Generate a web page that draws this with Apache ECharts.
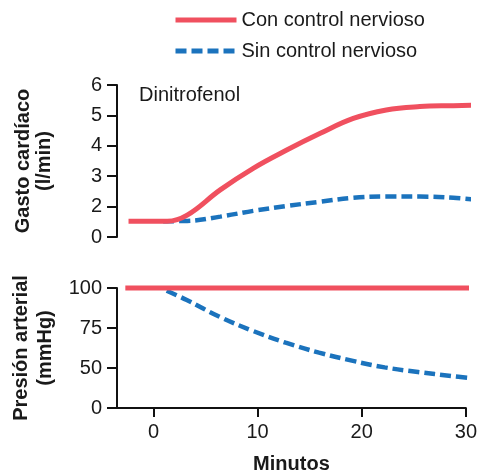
<!DOCTYPE html>
<html>
<head>
<meta charset="utf-8">
<script src="https://cdn.jsdelivr.net/npm/echarts@6/dist/echarts.min.js"></script>
<style>
  html, body { margin: 0; padding: 0; background: #fff; }
  #chart { width: 480px; height: 476px; }
</style>
</head>
<body>
<div id="chart"></div>
<script>
// minutes / values
const gastoConX = [-2.4, 1.3, 3.2, 6.35, 9.5, 12.7, 15.9, 19.05, 22.2, 25.4, 28.6, 31.2];
const gastoConY = [1.52, 1.52, 1.72, 2.55, 3.26, 3.86, 4.41, 4.9, 5.18, 5.29, 5.32, 5.34];
const gastoSinX = [0.9, 3.2, 6.35, 9.5, 12.7, 15.9, 19.05, 22.2, 25.4, 28.6, 30.8];
const gastoSinY = [1.52, 1.53, 1.67, 1.86, 2.02, 2.16, 2.29, 2.33, 2.33, 2.29, 2.22];
const presionConX = [-2.7, 30.8];
const presionConY = [100, 100];
const presionSinX = [1.27, 3.2, 6.35, 9.5, 12.7, 15.9, 19.05, 22.2, 25.4, 28.6, 30.7];
const presionSinY = [98.3, 92.5, 82, 73.3, 65.8, 59.6, 54.6, 50.4, 47.5, 45, 43.6];
const minuteTicks = [0, 10, 20, 30];

const RED = '#f0505f';
const BLUE = '#1b73bd';
const FONT = '"Liberation Sans", Arial, sans-serif';

const pairs = (xs, ys) => xs.map((x, i) => [x, ys[i]]);

const axisLine = { onZero: false, lineStyle: { color: '#111', width: 2 } };
const axisTick = { inside: false, length: 10, lineStyle: { color: '#111', width: 2 } };

const chart = echarts.init(document.getElementById('chart'));

chart.setOption({
  animation: false,
  textStyle: { fontFamily: FONT },
  legend: {
    orient: 'vertical',
    left: 168,
    top: 5,
    itemWidth: 61,
    itemHeight: 6,
    itemGap: 11,
    itemStyle: { opacity: 0 },
    lineStyle: { width: 5 },
    textStyle: { fontSize: 20, color: '#1a1a1a', fontFamily: FONT },
    data: ['Con control nervioso', 'Sin control nervioso'],
  },
  grid: [
    { left: 117, right: 12, top: 85, height: 152 },
    { left: 117, right: 12, top: 288, height: 120 },
  ],
  graphic: [
    {
      type: 'text',
      left: 139,
      top: 85,
      style: { text: 'Dinitrofenol', fontSize: 20, fill: '#1a1a1a', fontFamily: FONT },
    },
  ],
  xAxis: [
    { gridIndex: 0, type: 'value', min: -3.5, max: 30, show: false },
    {
      gridIndex: 1,
      type: 'value',
      min: -3.5,
      max: 30,
      axisLine,
      axisTick: { ...axisTick, length: 9, customValues: minuteTicks },
      axisLabel: {
        customValues: minuteTicks,
        fontSize: 20,
        color: '#1a1a1a',
        margin: 14,
      },
      splitLine: { show: false },
      name: 'Minutos',
      nameLocation: 'middle',
      nameGap: 46,
      nameTextStyle: { fontSize: 20, fontWeight: 'bold', color: '#1a1a1a' },
    },
  ],
  yAxis: [
    {
      gridIndex: 0,
      type: 'value',
      min: 1,
      max: 6,
      interval: 1,
      axisLine: { show: true, ...axisLine },
      axisTick: { show: true, ...axisTick },
      axisLabel: {
        fontSize: 20,
        color: '#1a1a1a',
        margin: 15,
        formatter: (v) => (v === 1 ? '0' : String(v)),
      },
      splitLine: { show: false },
      name: 'Gasto cardíaco\n(l/min)',
      nameLocation: 'middle',
      nameRotate: 90,
      nameGap: 62,
      nameTextStyle: { fontSize: 20, fontWeight: 'bold', color: '#1a1a1a', lineHeight: 21 },
    },
    {
      gridIndex: 1,
      type: 'value',
      min: 25,
      max: 100,
      interval: 25,
      axisLine: { show: true, ...axisLine },
      axisTick: { show: true, ...axisTick },
      axisLabel: {
        fontSize: 20,
        color: '#1a1a1a',
        margin: 15,
        formatter: (v) => (v === 25 ? '0' : String(v)),
      },
      splitLine: { show: false },
      name: 'Presión arterial\n(mmHg)',
      nameLocation: 'middle',
      nameRotate: 90,
      nameGap: 60,
      nameTextStyle: { fontSize: 20, fontWeight: 'bold', color: '#1a1a1a', lineHeight: 24 },
    },
  ],
  series: [
    {
      name: 'Sin control nervioso',
      type: 'line',
      xAxisIndex: 0,
      yAxisIndex: 0,
      data: pairs(gastoSinX, gastoSinY),
      smooth: 0.4,
      symbol: 'none',
      clip: false,
      lineStyle: { color: BLUE, width: 4.5, type: [11, 5] },
      itemStyle: { color: BLUE },
    },
    {
      name: 'Con control nervioso',
      type: 'line',
      xAxisIndex: 0,
      yAxisIndex: 0,
      data: pairs(gastoConX, gastoConY),
      smooth: 0.4,
      symbol: 'none',
      clip: false,
      lineStyle: { color: RED, width: 5 },
      itemStyle: { color: RED },
    },
    {
      name: 'Sin control nervioso',
      type: 'line',
      xAxisIndex: 1,
      yAxisIndex: 1,
      data: pairs(presionSinX, presionSinY),
      smooth: 0.4,
      symbol: 'none',
      clip: false,
      lineStyle: { color: BLUE, width: 4.5, type: [11, 5] },
      itemStyle: { color: BLUE },
    },
    {
      name: 'Con control nervioso',
      type: 'line',
      xAxisIndex: 1,
      yAxisIndex: 1,
      data: pairs(presionConX, presionConY),
      symbol: 'none',
      clip: false,
      lineStyle: { color: RED, width: 5 },
      itemStyle: { color: RED },
    },
  ],
});
</script>
</body>
</html>
